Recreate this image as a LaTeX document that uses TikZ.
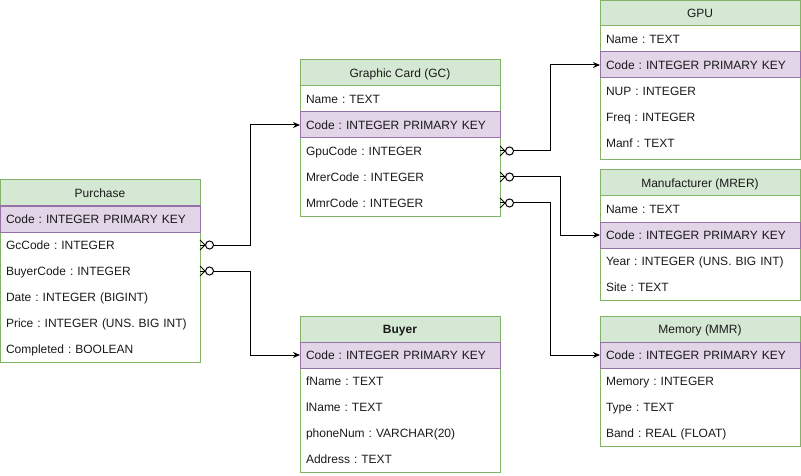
\documentclass[tikz,border=0pt]{standalone}
\usepackage{fontspec}
\setmainfont{Liberation Sans}
\usetikzlibrary{arrows.meta,positioning}
\definecolor{hdrfill}{HTML}{D5E8D4}
\definecolor{hdrline}{HTML}{82B366}
\definecolor{keyfill}{HTML}{E1D5E7}
\definecolor{keyline}{HTML}{9673A6}
\definecolor{ink}{HTML}{1A1A1A}
\frenchspacing

% zero-or-many end of a relation
\newcommand{\crowfoot}[1]{%
    \draw (#1) ++(0,-5) -- ++(5,5) -- ++(-5,5);
    \draw (#1) -- ++(5,0);
    \draw[fill=white] (#1) ++(9.5,0) circle (4pt);}

\begin{document}
\begin{tikzpicture}[x=1pt,y=-1pt,line width=1pt,
        every node/.style={font=\fontsize{12}{14}\selectfont,text=ink,outer sep=0pt,text height=8.6pt,text depth=0pt},
        hdr/.style={draw=hdrline,fill=hdrfill,anchor=north west,minimum width=200pt,minimum height=26pt,inner sep=0pt},
        fld/.style={anchor=north west,text width=188pt,inner xsep=6pt,inner ysep=0pt,minimum height=26pt,align=left},
        key/.style={fld,draw=keyline,fill=keyfill},
        frame/.style={draw=hdrline},
        link/.style={-{Stealth[length=7pt,width=6pt]}}
    ]
    \useasboundingbox (0,0) rectangle (801,476);

    % --- Purchase ---
    \node[hdr] (pur) at (0,180) {Purchase};
    \draw[frame] (pur.north west) rectangle ++(200,182);
    \foreach \s/\t [count=\i] in {key/Code : INTEGER PRIMARY KEY, fld/GcCode : INTEGER,
        fld/BuyerCode : INTEGER, fld/Date : INTEGER (BIGINT), fld/Price : INTEGER (UNS. BIG INT),
        fld/Completed : BOOLEAN}
        \node[\s] (pur-\i) at (0,{180+26*\i}) {\t};

    % --- Graphic Card ---
    \node[hdr] (gc) at (300,60) {Graphic Card (GC)};
    \draw[frame] (gc.north west) rectangle ++(200,156);
    \foreach \s/\t [count=\i] in {fld/Name : TEXT, key/Code : INTEGER PRIMARY KEY,
        fld/GpuCode : INTEGER, fld/MrerCode : INTEGER, fld/MmrCode : INTEGER}
        \node[\s] (gc-\i) at (300,{60+26*\i}) {\t};

    % --- Buyer ---
    \node[hdr,font=\fontsize{12}{14}\selectfont\bfseries] (buy) at (300,316) {Buyer};
    \draw[frame] (buy.north west) rectangle ++(200,156);
    \foreach \s/\t [count=\i] in {key/Code : INTEGER PRIMARY KEY, fld/fName : TEXT,
        fld/lName : TEXT, fld/phoneNum : VARCHAR(20), fld/Address : TEXT}
        \node[\s] (buy-\i) at (300,{316+26*\i}) {\t};

    % --- GPU ---
    \node[hdr,minimum height=25pt] (gpu) at (600,1) {GPU};
    \draw[frame] (gpu.north west) rectangle ++(200,159);
    \foreach \s/\t [count=\i] in {fld/Name : TEXT, key/Code : INTEGER PRIMARY KEY,
        fld/NUP : INTEGER, fld/Freq : INTEGER, fld/Manf : TEXT}
        \node[\s] (gpu-\i) at (600,{26*\i}) {\t};

    % --- Manufacturer ---
    \node[hdr] (mrer) at (600,170) {Manufacturer (MRER)};
    \draw[frame] (mrer.north west) rectangle ++(200,130);
    \foreach \s/\t [count=\i] in {fld/Name : TEXT, key/Code : INTEGER PRIMARY KEY,
        fld/Year : INTEGER (UNS. BIG INT), fld/Site : TEXT}
        \node[\s] (mrer-\i) at (600,{170+26*\i}) {\t};

    % --- Memory ---
    \node[hdr] (mmr) at (600,316) {Memory (MMR)};
    \draw[frame] (mmr.north west) rectangle ++(200,130);
    \foreach \s/\t [count=\i] in {key/Code : INTEGER PRIMARY KEY, fld/Memory : INTEGER,
        fld/Type : TEXT, fld/Band : REAL (FLOAT)}
        \node[\s] (mmr-\i) at (600,{316+26*\i}) {\t};

    % --- Relations ---
    \draw[link] (pur-2.east) -- ++(50,0) |- (gc-2.west);
    \draw[link] (pur-3.east) -- ++(50,0) |- (buy-1.west);
    \draw[link] (gc-3.east) -- ++(50,0) |- (gpu-2.west);
    \draw[link] (gc-4.east) -- ++(60,0) |- (mrer-2.west);
    \draw[link] (gc-5.east) -- ++(50,0) |- (mmr-1.west);
    \crowfoot{pur-2.east}
    \crowfoot{pur-3.east}
    \crowfoot{gc-3.east}
    \crowfoot{gc-4.east}
    \crowfoot{gc-5.east}

\end{tikzpicture}
\end{document}
